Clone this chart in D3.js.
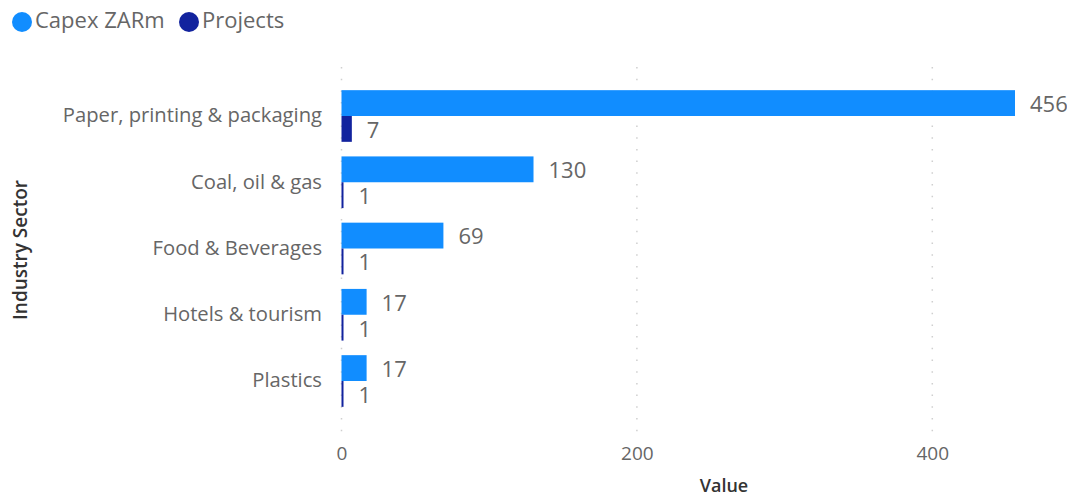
<!DOCTYPE html>
<html>
<head>
<meta charset="utf-8">
<script src="https://cdn.jsdelivr.net/npm/d3@7"></script>
<style>
  html, body { margin: 0; padding: 0; background: #fff; }
  svg { display: block; }
  svg text { font-family: "Segoe UI", "Open Sans", "Noto Sans", sans-serif; }
</style>
</head>
<body>
<svg id="chart" width="1067" height="498"></svg>
<script>
// Capex (ZAR millions) and number of projects per industry sector
const sectors = ["Paper, printing & packaging", "Coal, oil & gas", "Food & Beverages", "Hotels & tourism", "Plastics"];
const capex = [456, 130, 69, 17, 17];
const projects = [7, 1, 1, 1, 1];
const seriesNames = ["Capex ZARm", "Projects"];
const seriesColors = ["#118DFF", "#12239E"];
const xTicks = [0, 200, 400];

const svg = d3.select("#chart");

const x = d3.scaleLinear().domain([0, 456]).range([341.5, 1015]);
const y = d3.scaleBand().domain(sectors).range([82.875, 414.125]).paddingInner(0.22).paddingOuter(0.11);
const ySub = d3.scaleBand().domain(seriesNames).range([0, y.bandwidth()]);

// Dotted vertical gridlines
svg.append("g")
  .selectAll("line")
  .data(xTicks)
  .join("line")
  .attr("x1", d => x(d)).attr("x2", d => x(d))
  .attr("y1", 67).attr("y2", 436)
  .attr("stroke", "#cfcfcf")
  .attr("stroke-width", 1.5)
  .attr("stroke-dasharray", "1.5 10.2");

// X axis tick labels
const xAxis = d3.axisBottom(x).tickValues(xTicks).tickSize(0).tickPadding(0);
const gx = svg.append("g").attr("transform", "translate(0,446)").call(xAxis)
  .attr("font-family", null).attr("font-size", null);
gx.select(".domain").remove();
gx.selectAll("text")
  .attr("dy", "0.71em")
  .attr("font-size", 19)
  .attr("fill", "#666");

// Y axis category labels
const yAxis = d3.axisLeft(y).tickSize(0).tickPadding(0);
const gy = svg.append("g").attr("transform", "translate(322,0)").call(yAxis)
  .attr("font-family", null).attr("font-size", null);
gy.select(".domain").remove();
gy.selectAll("text")
  .attr("font-size", 20.2)
  .attr("fill", "#666");

// Bars
const rows = sectors.map((s, i) => ({ sector: s, values: [capex[i], projects[i]] }));
const groups = svg.append("g")
  .selectAll("g")
  .data(rows)
  .join("g")
  .attr("transform", d => `translate(0,${y(d.sector)})`);

groups.selectAll("rect")
  .data(d => d.values.map((v, j) => ({ key: seriesNames[j], value: v, j })))
  .join("rect")
  .attr("x", x(0))
  .attr("y", d => ySub(d.key))
  .attr("width", d => Math.max(2, x(d.value) - x(0)))
  .attr("height", ySub.bandwidth())
  .attr("fill", d => seriesColors[d.j]);

// Value labels
groups.selectAll("text")
  .data(d => d.values.map((v, j) => ({ key: seriesNames[j], value: v, j })))
  .join("text")
  .attr("x", d => Math.max(x(d.value), x(0) + 2) + 15)
  .attr("y", d => ySub(d.key) + ySub.bandwidth() / 2 + 3)
  .attr("dominant-baseline", "middle")
  .attr("font-size", 22)
  .attr("fill", "#666")
  .text(d => d.value);

// Axis titles
svg.append("text")
  .attr("x", 724).attr("y", 487)
  .attr("dominant-baseline", "middle")
  .attr("text-anchor", "middle")
  .attr("font-size", 18)
  .attr("font-weight", 600)
  .attr("fill", "#333")
  .text("Value");

svg.append("text")
  .attr("transform", "translate(22,250) rotate(-90)")
  .attr("dominant-baseline", "middle")
  .attr("text-anchor", "middle")
  .attr("font-size", 19)
  .attr("font-weight", 600)
  .attr("fill", "#333")
  .text("Industry Sector");

// Legend
const legendX = [22, 189];
const legend = svg.append("g")
  .selectAll("g")
  .data(seriesNames)
  .join("g")
  .attr("transform", (d, i) => `translate(${legendX[i]},22)`);
legend.append("circle").attr("r", 10).attr("fill", (d, i) => seriesColors[i]);
legend.append("text")
  .attr("x", 13)
  .attr("dominant-baseline", "middle")
  .attr("font-size", 22)
  .attr("fill", "#666")
  .text(d => d);
</script>
</body>
</html>
